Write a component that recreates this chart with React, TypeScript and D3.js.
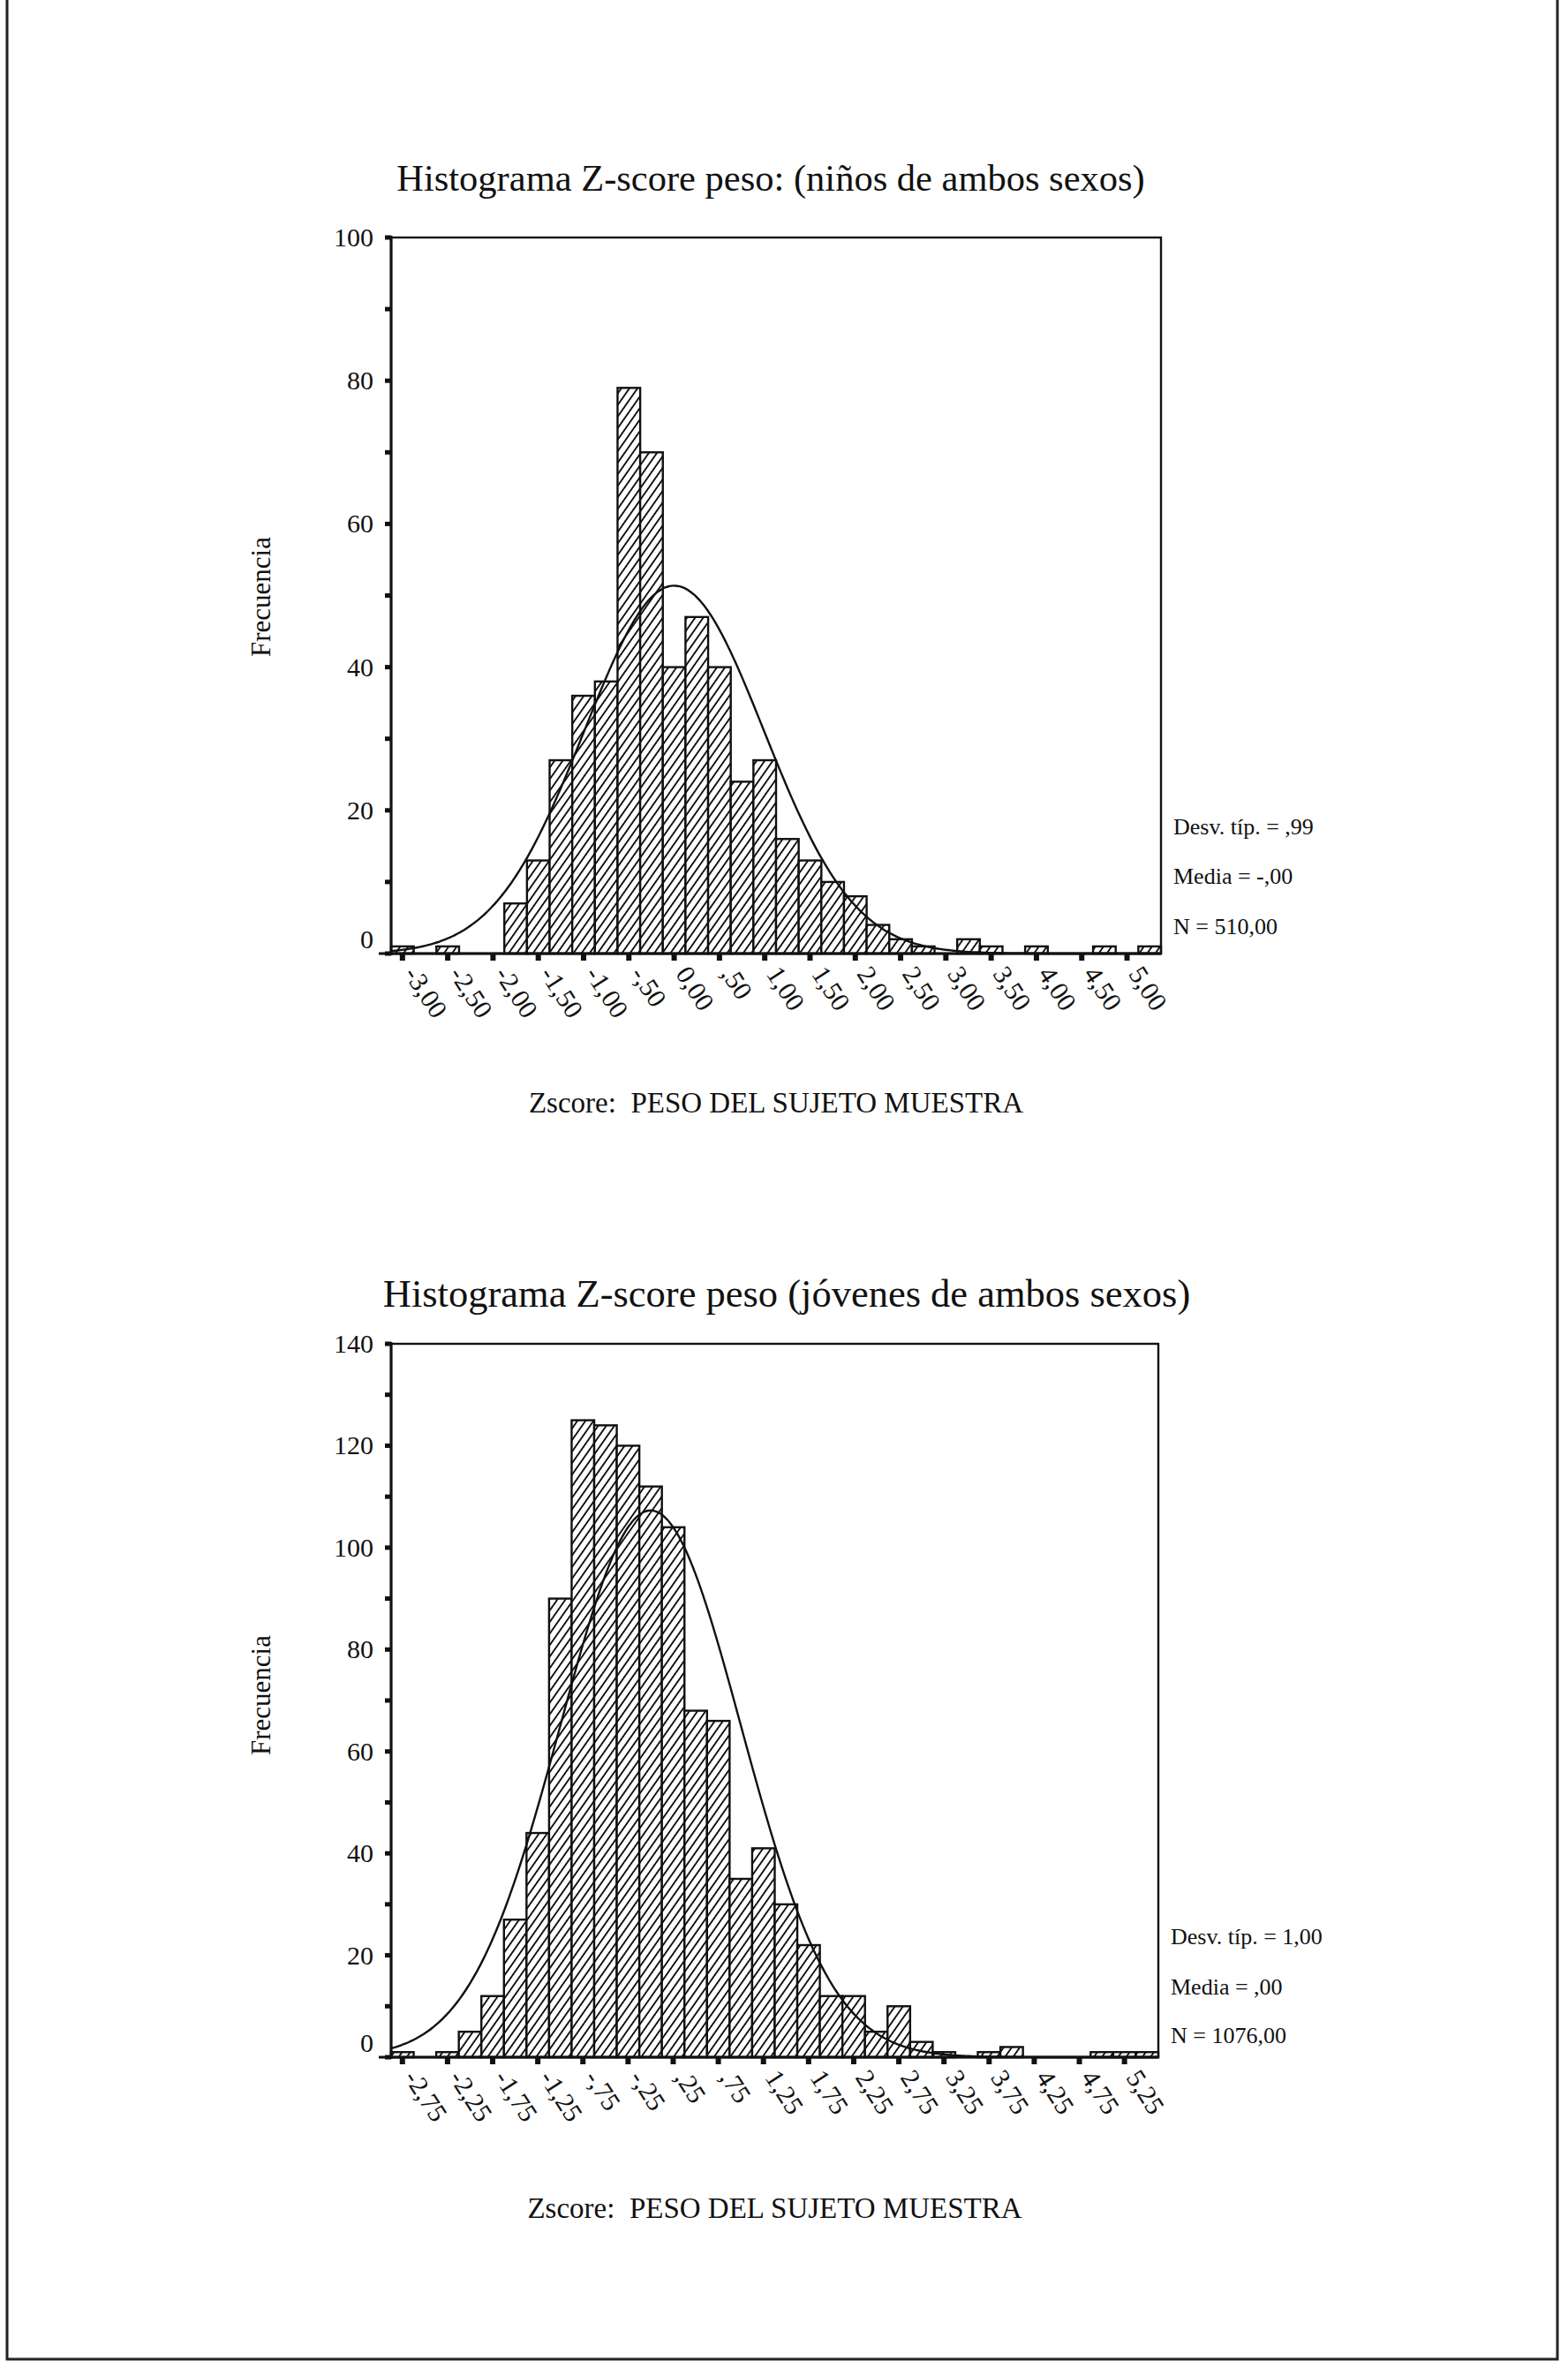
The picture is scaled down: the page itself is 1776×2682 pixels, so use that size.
import React from "react";
import * as d3 from "d3";

// ---------- DATA ----------
// Chart 1: niños (bin midpoints, width 0.25)
const ninosBins = [-3.0, -2.75, -2.5, -2.25, -2.0, -1.75, -1.5, -1.25, -1.0, -0.75, -0.5, -0.25, 0.0, 0.25, 0.5, 0.75, 1.0, 1.25, 1.5, 1.75, 2.0, 2.25, 2.5, 2.75, 3.0, 3.25, 3.5, 3.75, 4.0, 4.25, 4.5, 4.75, 5.0, 5.25];
const ninosCounts = [1, 0, 1, 0, 0, 7, 13, 27, 36, 38, 79, 70, 40, 47, 40, 24, 27, 16, 13, 10, 8, 4, 2, 1, 0, 2, 1, 0, 1, 0, 0, 1, 0, 1];
const ninosTicks = [-3.0, -2.5, -2.0, -1.5, -1.0, -0.5, 0.0, 0.5, 1.0, 1.5, 2.0, 2.5, 3.0, 3.5, 4.0, 4.5, 5.0];
const ninosTickLabels = ["-3,00", "-2,50", "-2,00", "-1,50", "-1,00", "-,50", "0,00", ",50", "1,00", "1,50", "2,00", "2,50", "3,00", "3,50", "4,00", "4,50", "5,00"];
const ninosYTicks = [0, 20, 40, 60, 80, 100];
const ninosYMinor = [0, 10, 20, 30, 40, 50, 60, 70, 80, 90, 100];
const ninosStats = { sd: 0.99, mean: 0.0, n: 510 };
const ninosStatLabels = ["Desv. típ. = ,99", "Media = -,00", "N = 510,00"];

// Chart 2: jóvenes
const jovenesBins = [-2.75, -2.5, -2.25, -2.0, -1.75, -1.5, -1.25, -1.0, -0.75, -0.5, -0.25, 0.0, 0.25, 0.5, 0.75, 1.0, 1.25, 1.5, 1.75, 2.0, 2.25, 2.5, 2.75, 3.0, 3.25, 3.5, 3.75, 4.0, 4.25, 4.5, 4.75, 5.0, 5.25, 5.5];
const jovenesCounts = [1, 0, 1, 5, 12, 27, 44, 90, 125, 124, 120, 112, 104, 68, 66, 35, 41, 30, 22, 12, 12, 5, 10, 3, 1, 0, 1, 2, 0, 0, 0, 1, 1, 1];
const jovenesTicks = [-2.75, -2.25, -1.75, -1.25, -0.75, -0.25, 0.25, 0.75, 1.25, 1.75, 2.25, 2.75, 3.25, 3.75, 4.25, 4.75, 5.25];
const jovenesTickLabels = ["-2,75", "-2,25", "-1,75", "-1,25", "-,75", "-,25", ",25", ",75", "1,25", "1,75", "2,25", "2,75", "3,25", "3,75", "4,25", "4,75", "5,25"];
const jovenesYTicks = [0, 20, 40, 60, 80, 100, 120, 140];
const jovenesYMinor = [0, 10, 20, 30, 40, 50, 60, 70, 80, 90, 100, 110, 120, 130, 140];
const jovenesStats = { sd: 1.0, mean: 0.0, n: 1076 };
const jovenesStatLabels = ["Desv. típ. = 1,00", "Media = ,00", "N = 1076,00"];

const BIN_W = 0.25;
const FONT = "'Liberation Serif', 'Times New Roman', serif";

type Cfg = {
  id: string;
  title: string;
  titleSize: number;
  titleX: number;
  titleY: number;
  bins: number[];
  counts: number[];
  ticks: number[];
  tickLabels: string[];
  yTicks: number[];
  yMinor: number[];
  yMax: number;
  stats: { sd: number; mean: number; n: number };
  statLabels: string[];
  left: number;
  right: number;
  top: number;
  bottom: number;
  statY: number[];
  xTitleY: number;
  yTitleY: number;
};

function Histogram({ c }: { c: Cfg }) {
  const x0 = c.bins[0] - BIN_W / 2;
  const x1 = c.bins[c.bins.length - 1] + BIN_W / 2;
  const x = d3.scaleLinear().domain([x0, x1]).range([c.left, c.right]);
  const y = d3.scaleLinear().domain([0, c.yMax]).range([c.bottom, c.top]);
  const { sd, mean, n } = c.stats;
  const dens = (z: number) =>
    (n * BIN_W) / (sd * Math.sqrt(2 * Math.PI)) * Math.exp(-0.5 * ((z - mean) / sd) ** 2);
  const pts: [number, number][] = [];
  const steps = 300;
  for (let i = 0; i <= steps; i++) {
    const z = x0 + ((x1 - x0) * i) / steps;
    pts.push([z, dens(z)]);
  }
  const line = d3
    .line<[number, number]>()
    .x((d) => x(d[0]))
    .y((d) => y(d[1]))
    .curve(d3.curveBasis);

  return (
    <g>
      <text x={c.titleX} y={c.titleY} fontFamily={FONT} fontSize={c.titleSize} textAnchor="middle" fill="#111">
        {c.title}
      </text>
      {/* bars */}
      {c.bins.map((b, i) =>
        c.counts[i] > 0 ? (
          <rect
            key={i}
            x={x(b - BIN_W / 2)}
            y={y(c.counts[i])}
            width={x(b + BIN_W / 2) - x(b - BIN_W / 2)}
            height={y(0) - y(c.counts[i])}
            fill={`url(#hatch)`}
            stroke="#111"
            strokeWidth={2.4}
          />
        ) : null
      )}
      {/* normal curve */}
      <path d={line(pts) || ""} fill="none" stroke="#111" strokeWidth={2.4} />
      {/* frame */}
      <rect x={c.left} y={c.top} width={c.right - c.left} height={c.bottom - c.top} fill="none" stroke="#111" strokeWidth={2.4} />
      <line x1={c.left} x2={c.left} y1={c.top - 2} y2={c.bottom + 2} stroke="#111" strokeWidth={3} />
      <line x1={c.left - 14} x2={c.right} y1={c.bottom} y2={c.bottom} stroke="#111" strokeWidth={3} />
      {/* y ticks */}
      {c.yMinor.map((t) => (
        <rect key={"ym" + t} x={c.left - 7} y={y(t) - 2.5} width={7} height={5} fill="#111" />
      ))}
      {c.yTicks.map((t) => (
        <text
          key={"yl" + t}
          x={c.left - 20}
          y={y(t) + (t === 0 ? -6 : 10)}
          fontFamily={FONT}
          fontSize={30}
          textAnchor="end"
          fill="#111"
        >
          {t}
        </text>
      ))}
      {/* x ticks */}
      {c.ticks.map((t, i) => (
        <g key={"xt" + i}>
          <rect x={x(t) - 3} y={c.bottom + 1} width={6} height={7} fill="#111" />
          <text
            transform={`translate(${x(t) + 1},${c.bottom + 23}) rotate(57)`}
            fontFamily={FONT}
            fontSize={30}
            fill="#111"
            textAnchor="start"
          >
            {c.tickLabels[i]}
          </text>
        </g>
      ))}
      {/* stats */}
      {c.statLabels.map((s, i) => (
        <text key={"st" + i} x={c.right + 14} y={c.statY[i]} fontFamily={FONT} fontSize={26} fill="#111">
          {s}
        </text>
      ))}
      {/* axis titles */}
      <text
        x={(c.left + c.right) / 2}
        y={c.xTitleY}
        fontFamily={FONT}
        fontSize={33}
        textAnchor="middle"
        fill="#111"
        style={{ whiteSpace: "pre" }}
      >
        {"Zscore:  PESO DEL SUJETO MUESTRA"}
      </text>
      <text
        transform={`translate(306,${c.yTitleY}) rotate(-90)`}
        fontFamily={FONT}
        fontSize={31}
        textAnchor="middle"
        fill="#111"
      >
        Frecuencia
      </text>
    </g>
  );
}

const topCfg: Cfg = {
  id: "top",
  title: "Histograma Z-score peso: (niños de ambos sexos)",
  titleSize: 42.5,
  titleX: 873,
  titleY: 216,
  bins: ninosBins,
  counts: ninosCounts,
  ticks: ninosTicks,
  tickLabels: ninosTickLabels,
  yTicks: ninosYTicks,
  yMinor: ninosYMinor,
  yMax: 100,
  stats: ninosStats,
  statLabels: ninosStatLabels,
  left: 443,
  right: 1315,
  top: 269,
  bottom: 1080,
  statY: [945, 1001, 1058],
  xTitleY: 1260,
  yTitleY: 676,
};

const bottomCfg: Cfg = {
  id: "bottom",
  title: "Histograma Z-score peso (jóvenes de ambos sexos)",
  titleSize: 44.5,
  titleX: 891,
  titleY: 1480,
  bins: jovenesBins,
  counts: jovenesCounts,
  ticks: jovenesTicks,
  tickLabels: jovenesTickLabels,
  yTicks: jovenesYTicks,
  yMinor: jovenesYMinor,
  yMax: 140,
  stats: jovenesStats,
  statLabels: jovenesStatLabels,
  left: 443,
  right: 1312,
  top: 1522,
  bottom: 2330,
  statY: [2202, 2259, 2314],
  xTitleY: 2512,
  yTitleY: 1920,
};

export default function App() {
  return (
    <svg
      width={1776}
      height={2682}
      viewBox="0 0 1776 2682"
      style={{ position: "absolute", left: 0, top: 0, background: "#fff" }}
    >
      <defs>
        <pattern id="hatch" width={7.5} height={7.5} patternUnits="userSpaceOnUse" patternTransform="rotate(35)">
          <rect width={7.5} height={7.5} fill="#fff" />
          <line x1={3.75} y1={0} x2={3.75} y2={7.5} stroke="#111" strokeWidth={1.9} />
        </pattern>
      </defs>
      <rect x={0} y={0} width={1776} height={2682} fill="#fff" />
      {/* page frame */}
      <polyline points="8,-2 8,2672 1764,2672 1764,-2" fill="none" stroke="#222" strokeWidth={3} />
      <Histogram c={topCfg} />
      <Histogram c={bottomCfg} />
    </svg>
  );
}
